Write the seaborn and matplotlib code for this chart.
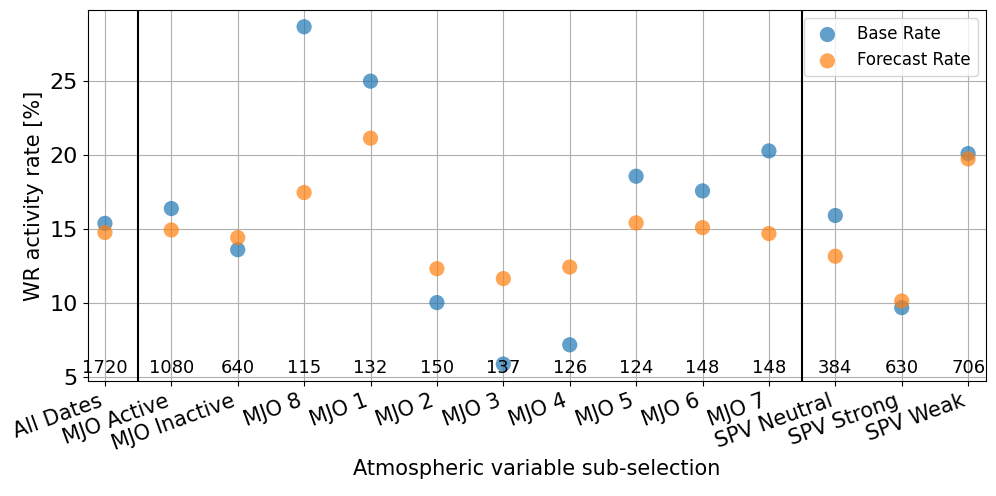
import pandas as pd
import seaborn as sns
import matplotlib.pyplot as plt

categories = ["All Dates", "MJO Active", "MJO Inactive", "MJO 8", "MJO 1", "MJO 2",
              "MJO 3", "MJO 4", "MJO 5", "MJO 6", "MJO 7",
              "SPV Neutral", "SPV Strong", "SPV Weak"]
base_rate = [15.4, 16.4, 13.62, 28.67, 25.0, 10.05, 5.9, 7.2,
             18.58, 17.59, 20.29, 15.93, 9.71, 20.11]
forecast_rate = [14.78, 14.95, 14.44, 17.48, 21.15, 12.34, 11.67, 12.45,
                 15.43, 15.11, 14.71, 13.18, 10.16, 19.75]
counts = [1720, 1080, 640, 115, 132, 150, 137, 126, 124, 148, 148, 384, 630, 706]

df = pd.DataFrame({
    "idx": range(len(categories)),
    "base": base_rate,
    "forecast": forecast_rate,
})

fig, ax = plt.subplots(figsize=(9.96, 4.96), dpi=100)

sns.scatterplot(data=df, x="idx", y="base", color="#1f77b4", s=120, alpha=0.7,
                edgecolor="none", label="Base Rate", ax=ax, zorder=3)
sns.scatterplot(data=df, x="idx", y="forecast", color="#ff7f0e", s=120, alpha=0.7,
                edgecolor="none", label="Forecast Rate", ax=ax, zorder=3)

ax.set_xticks(range(len(categories)))
ax.set_xticklabels(categories, rotation=20, ha="right", fontsize=15)
ax.tick_params(axis="y", labelsize=16)
ax.set_xlim(-0.26, len(categories) - 0.73)
ax.grid(True, color="#b0b0b0", linewidth=0.8)
ax.set_axisbelow(True)

# group separators
ax.axvline(0.5, color="black", linewidth=1.5)
ax.axvline(10.5, color="black", linewidth=1.5)

# number of dates in each sub-selection
for i, n in enumerate(counts):
    ax.text(i, 5.0, str(n), ha="center", va="bottom", fontsize=13)

ax.set_xlabel("Atmospheric variable sub-selection", fontsize=15)
ax.set_ylabel("WR activity rate [%]", fontsize=15)
ax.legend(loc="upper right", fontsize=12)

fig.subplots_adjust(left=0.088, right=0.99, top=0.98, bottom=0.232)
fig.savefig("out.png", dpi=100)
